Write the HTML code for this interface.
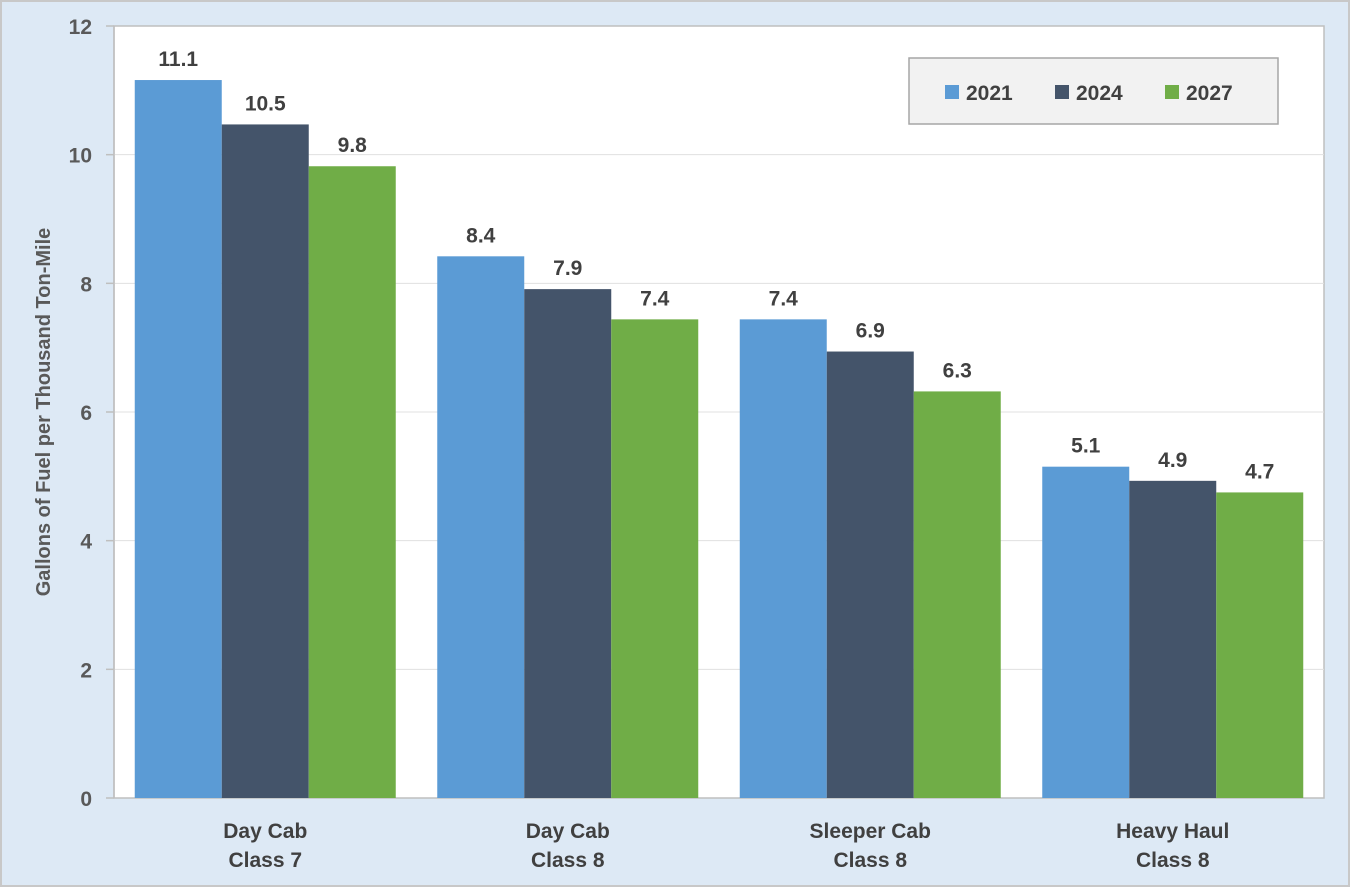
<!DOCTYPE html>
<html><head><meta charset="utf-8"><style>
body{margin:0;background:#fff;}
svg{display:block;font-family:"Liberation Sans",Arial,sans-serif;}
</style></head><body>
<svg id="chart" width="1350" height="887">
<rect x="1" y="1" width="1348" height="885" fill="#dde9f5" stroke="#c8c8c8" stroke-width="2"/>
<rect x="114" y="26" width="1210" height="772" fill="#fff" stroke="#bfbfbf" stroke-width="1.5"/>
<g id="grid"></g><g id="bars"></g><g id="labels"></g><g id="axes"></g>
<text x="50" y="412" transform="rotate(-90 50 412)" text-anchor="middle" font-size="20" font-weight="bold" fill="#595959">Gallons of Fuel per Thousand Ton-Mile</text>
<g>
<rect x="909" y="58" width="369" height="66" fill="#f2f2f2" stroke="#a6a6a6" stroke-width="1.5"/>
<g id="legend"></g>
</g>
</svg>
<script>
const categories=[["Day Cab","Class 7"],["Day Cab","Class 8"],["Sleeper Cab","Class 8"],["Heavy Haul","Class 8"]];
const seriesNames=["2021","2024","2027"];
const v2021=[11.16,8.42,7.44,5.15];
const v2024=[10.47,7.91,6.94,4.93];
const v2027=[9.82,7.44,6.32,4.75];
const lbl2021=["11.1","8.4","7.4","5.1"];
const lbl2024=["10.5","7.9","6.9","4.9"];
const lbl2027=["9.8","7.4","6.3","4.7"];
const yTicks=[0,2,4,6,8,10,12];
const colors=["#5b9bd5","#44546a","#70ad47"];
const series=[v2021,v2024,v2027], lbls=[lbl2021,lbl2024,lbl2027];
const NS="http://www.w3.org/2000/svg";
const L=114,R=1324,T=26,B=798,yMax=12;
const y=v=>B-(v/yMax)*(B-T);
const gw=(R-L)/categories.length, bw=87, pad=(gw-3*bw)/2;
const x=(c,s)=>L+c*gw+pad+s*bw;
function mk(tag,attrs,parent,txt){const e=document.createElementNS(NS,tag);for(const k in attrs)e.setAttribute(k,attrs[k]);if(txt!==undefined)e.textContent=txt;document.getElementById(parent).appendChild(e);return e;}
yTicks.forEach(t=>{
 if(t>0&&t<yMax){const g=mk('line',{x1:L,x2:R,y1:y(t),y2:y(t),stroke:'#e0e0e0','stroke-width':1},'grid');
 
 }
 const tk=mk('line',{x1:L-8,x2:L,y1:y(t),y2:y(t),stroke:'#bfbfbf','stroke-width':1.5},'axes');
 
 
 const tl=mk('text',{x:L-22,y:y(t)+8,'text-anchor':'end','font-size':21,'font-weight':'bold',fill:'#595959'},'axes',String(t));
 
 
});
categories.forEach((c,ci)=>{
 series.forEach((s,si)=>{
  const r=mk('rect',{x:x(ci,si),y:y(s[ci]),width:bw,height:B-y(s[ci]),fill:colors[si]},'bars');
  
  
  const t=mk('text',{x:x(ci,si)+bw/2,y:y(s[ci])-14,'text-anchor':'middle','font-size':21,'font-weight':'bold',fill:'#404040'},'labels',lbls[si][ci]);
  
  
 });
 const cx=L+ci*gw+gw/2;
 c.forEach((line,li)=>{
  const t=mk('text',{x:cx,y:838+li*29,'text-anchor':'middle','font-size':21,'font-weight':'bold',fill:'#404040'},'axes',line);
  
  
 });
});
const ax=mk('line',{x1:L,x2:L,y1:T,y2:B,stroke:'#bfbfbf','stroke-width':1.5},'axes');


seriesNames.forEach((n,i)=>{
 const lx=945+i*110;
 const sw=mk('rect',{x:lx,y:85,width:14,height:14,fill:colors[i]},'legend');
 
 
 const t=mk('text',{x:lx+21,y:100,'font-size':21,'font-weight':'bold',fill:'#404040'},'legend',n);
 
 
});
</script>
</body></html>
